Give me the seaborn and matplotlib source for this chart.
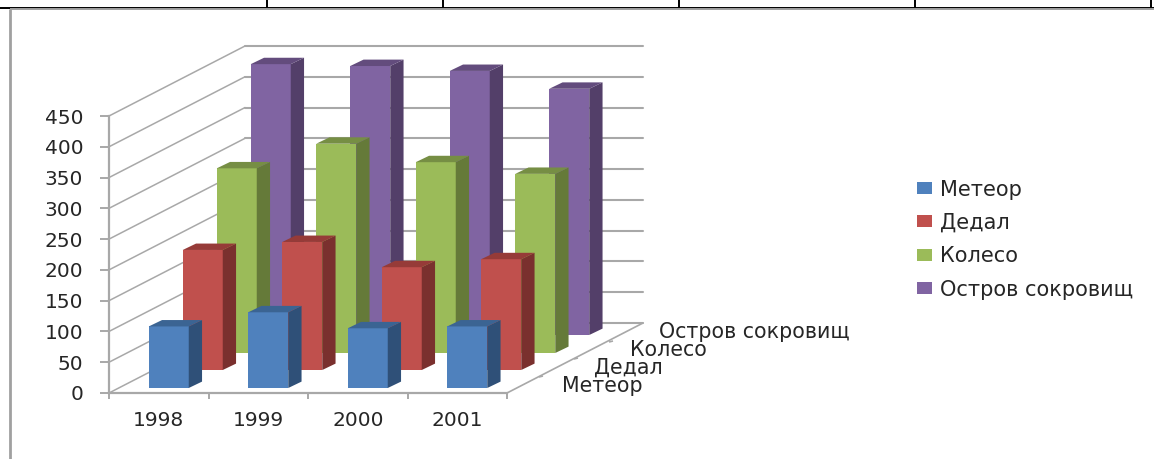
import matplotlib
matplotlib.use("Agg")
import matplotlib.pyplot as plt
import seaborn as sns
import pandas as pd
from matplotlib.lines import Line2D
from matplotlib.patches import Polygon, Patch
from matplotlib.transforms import IdentityTransform

# ---- data ----
years = ["1998", "1999", "2000", "2001"]
meteor = [100, 123, 97, 100]
dedal = [195, 208, 167, 180]
koleso = [300, 340, 310, 291]
ostrov = [440, 437, 429, 400]
series_names = ["Метеор", "Дедал", "Колесо", "Остров сокровищ"]
series_values = [meteor, dedal, koleso, ostrov]
y_ticks = [0, 50, 100, 150, 200, 250, 300, 350, 400, 450]

# ---- style ----
front_colors = ["#4F81BD", "#C0504D", "#9BBB59", "#8064A2"]
side_colors = ["#2F5078", "#7A302E", "#657A39", "#533F69"]
top_colors = ["#3B6493", "#963B38", "#768E44", "#634C7D"]
grid_color = "#A8A8A8"
text_color = "#262626"
W, H = 1154, 459
DPI = 100

sns.set_theme(style="white")
plt.rcParams["font.family"] = ["DejaVu Sans"]

fig = plt.figure(figsize=(W / DPI, H / DPI), dpi=DPI, facecolor="white")


def px_axes(dx=0, dy=0):
    """Axes whose plot box is the chart's front plane, shifted in pixels."""
    left, right, top, bottom = 109 + dx, 507 + dx, 116 + dy, 393 + dy
    ax = fig.add_axes([left / W, 1 - bottom / H, (right - left) / W, (bottom - top) / H])
    ax.set_xlim(-0.5, 3.5)
    ax.set_ylim(0, 450)
    ax.patch.set_visible(False)
    return ax


def hide(ax):
    ax.set_xlabel("")
    ax.set_ylabel("")
    ax.set_xticks([])
    ax.set_yticks([])
    for s in ax.spines.values():
        s.set_visible(False)


def fig_line(xs, ys, color="black", lw=1.0):
    fig.add_artist(Line2D([x / W for x in xs], [1 - y / H for y in ys],
                          color=color, lw=lw, solid_capstyle="butt"))


# back wall + floor + side wall
WALL_DX, WALL_DY = 136, -70
wall = px_axes(WALL_DX, WALL_DY)
hide(wall)
for v in y_ticks:
    wall.axhline(v, color=grid_color, lw=1.5, zorder=1, clip_on=False)
front_tf = px_axes(0, 0)
for v in y_ticks:
    x0, y0 = front_tf.transData.transform((-0.5, v))
    x1, y1 = wall.transData.transform((-0.5, v))
    wall.add_line(Line2D([x0, x1], [y0, y1], color=grid_color, lw=1.1,
                         transform=IdentityTransform(), clip_on=False))
# floor right edge
x0, y0 = front_tf.transData.transform((3.5, 0))
x1, y1 = wall.transData.transform((3.5, 0))
wall.add_line(Line2D([x0, x1], [y0, y1], color=grid_color, lw=1.2,
                     transform=IdentityTransform(), clip_on=False))

# series, back to front, each in its own shifted axes
SER_OFFSETS = [(10, -5), (44, -23), (78, -40), (112, -58)]
DEPTH_DX, DEPTH_DY = 13.3, 6.4
for i in [3, 2, 1, 0]:
    dx, dy = SER_OFFSETS[i]
    ax = px_axes(dx, dy)
    df = pd.DataFrame({"year": years, "value": series_values[i]})
    sns.barplot(data=df, x="year", y="value", ax=ax, color=front_colors[i],
                saturation=1, width=0.402, errorbar=None, zorder=3,
                linewidth=0, edgecolor="none")
    ax.set_xlim(-0.5, 3.5)
    ax.set_ylim(0, 450)
    bars = list(ax.patches)
    hide(ax)
    for b in bars:
        (xa, ya) = ax.transData.transform((b.get_x(), 0))
        (xb, yb) = ax.transData.transform((b.get_x() + b.get_width(), b.get_height()))
        side = [(xb, ya), (xb + DEPTH_DX, ya + DEPTH_DY),
                (xb + DEPTH_DX, yb + DEPTH_DY), (xb, yb)]
        top = [(xa, yb), (xa + DEPTH_DX, yb + DEPTH_DY),
               (xb + DEPTH_DX, yb + DEPTH_DY), (xb, yb)]
        ax.add_patch(Polygon(side, closed=True, facecolor=side_colors[i], edgecolor="none",
                             transform=IdentityTransform(), clip_on=False, zorder=3))
        ax.add_patch(Polygon(top, closed=True, facecolor=top_colors[i], edgecolor="none",
                             transform=IdentityTransform(), clip_on=False, zorder=3))

# front axes: value and year axes
front = px_axes(0, 0)
sns.despine(ax=front, top=True, right=True)
front_tf.set_visible(False)
for s in ("left", "bottom"):
    front.spines[s].set_color(grid_color)
    front.spines[s].set_linewidth(1.6)
front.set_yticks(y_ticks)
front.set_yticklabels([str(v) for v in y_ticks], fontsize=14.5, color=text_color)
front.tick_params(axis="y", length=6.5, width=1.4, color=grid_color, pad=12, left=True)
front.set_xticks([-0.5, 0.5, 1.5, 2.5, 3.5])
front.set_xticklabels([])
front.tick_params(axis="x", length=4, width=1.4, color=grid_color, bottom=True)
for k, y in enumerate(years):
    front.annotate(y, (k, 0), xytext=(0, -28), textcoords="offset pixels",
                   ha="center", va="center", fontsize=14.5, color=text_color)

# depth axis ticks and labels
label_left = [(562, 386.5), (594, 367.5), (630, 349.5), (659, 332)]
tick_points = [(543, 376), (578, 358), (613, 341)]
for (x, y) in tick_points:
    fig_line([x, x - 4], [y, y + 1], color=grid_color, lw=1.2)
for name, (x, y) in zip(series_names, label_left):
    fig.text(x / W, 1 - y / H, name, ha="left", va="center", fontsize=14.8, color=text_color)

# legend
handles = [Patch(facecolor=c, edgecolor="none", label=n) for c, n in zip(front_colors, series_names)]
fig.legend(handles=handles, loc="center left", bbox_to_anchor=(917 / W, 1 - 239.5 / H),
           frameon=False, fontsize=15, handlelength=0.72, handleheight=0.5,
           handletextpad=0.38, labelspacing=0.64, labelcolor=text_color,
           borderpad=0, borderaxespad=0)

# surrounding page fragments: table rule and chart frame
fig_line([0, W], [7.5, 7.5], color="black", lw=1.4)
for x in (267, 443, 678.5, 915, 1151):
    fig_line([x, x], [0, 7.5], color="black", lw=1.4)
fig_line([9.5, W], [9, 9], color="#A0A0A0", lw=1.4)
fig_line([9.5, 9.5], [9, H], color="#A0A0A0", lw=2.0)

fig.savefig("out.png", dpi=DPI)
